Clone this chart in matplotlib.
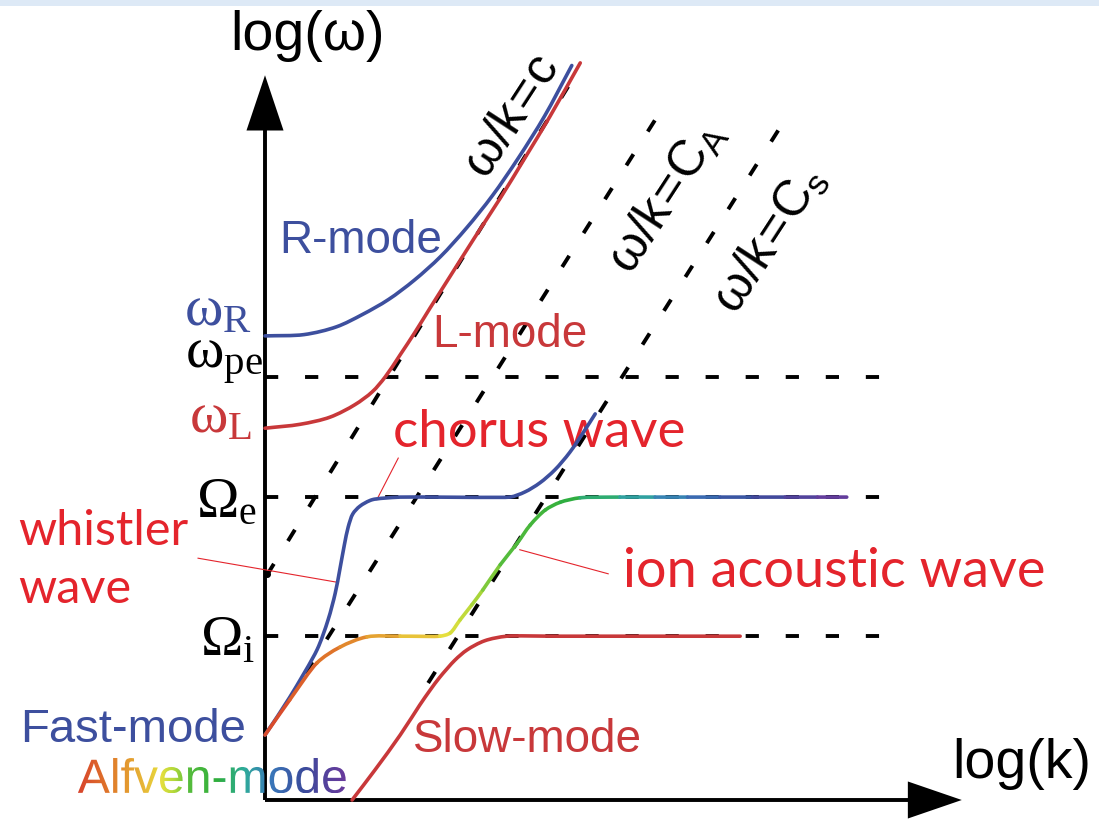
import numpy as np
import matplotlib
matplotlib.use('Agg')
import matplotlib.pyplot as plt
from matplotlib.colors import LinearSegmentedColormap
from matplotlib.textpath import TextPath
from matplotlib.patches import PathPatch
from matplotlib.path import Path
from matplotlib.font_manager import FontProperties

# characteristic frequencies on the log(omega) axis
w_levels = {'Omega_i': 2.52, 'Omega_e': 4.66, 'omega_L': 5.74, 'omega_pe': 6.51, 'omega_R': 7.14}

# R-mode (blue)
r_k = [0, 0.6, 1.1, 1.5, 1.9, 2.3, 2.7, 3.1, 3.5, 3.9, 4.3, 4.72]
r_w = [7.14, 7.16, 7.28, 7.47, 7.7, 8.0, 8.36, 8.8, 9.3, 9.88, 10.52, 11.3]

# L-mode (red)
l_k = [0, 0.54, 1.0, 1.38, 1.65, 1.85, 2.08, 2.31, 2.54, 2.85, 3.23, 3.62, 4.0, 4.38, 4.85]
l_w = [5.72, 5.78, 5.89, 6.08, 6.28, 6.51, 6.85, 7.2, 7.57, 8.06, 8.66, 9.26, 9.88, 10.51, 11.34]

# fast-mode / whistler / chorus (blue)
f_k = [0, 0.38, 0.8, 0.97, 1.08, 1.15, 1.22, 1.28, 1.35, 1.46, 1.65, 2.08, 3.77, 4.0, 4.23, 4.46, 4.69, 4.92, 5.08]
f_w = [1.0, 1.58, 2.31, 2.77, 3.18, 3.54, 3.92, 4.2, 4.4, 4.52, 4.62, 4.66, 4.66, 4.74, 4.88, 5.08, 5.35, 5.69, 5.94]

# Alfven-mode / ion acoustic (rainbow)
a_k = [0, 0.38, 0.8, 1.15, 1.57, 2.08, 2.69, 2.85, 3.0, 3.18, 3.35, 3.62, 3.88, 4.08, 4.31, 4.54,
       4.85, 5.46, 6.0, 6.5, 7.0, 7.5, 8.0, 8.5, 8.95]
a_w = [1.0, 1.54, 2.11, 2.35, 2.51, 2.52, 2.52, 2.57, 2.77, 3.0, 3.23, 3.62, 3.95, 4.23, 4.46, 4.58,
       4.65, 4.66, 4.66, 4.66, 4.66, 4.66, 4.66, 4.66, 4.66]

# slow-mode (red)
s_k = [1.34, 1.69, 2.08, 2.38, 2.54, 2.69, 2.92, 3.11, 3.38, 3.72, 4.5, 7.31]
s_w = [0, 0.46, 1.0, 1.46, 1.69, 1.89, 2.15, 2.31, 2.45, 2.52, 2.52, 2.52]

# phase velocity lines w/k = const (start, end)
c_line = ([0.03, 4.82], [3.46, 11.23])
ca_line = ([0.62, 6.0], [1.95, 10.46])
cs_line = ([2.51, 7.92], [1.8, 10.34])

# horizontal dashed levels and their right ends
h_levels = [w_levels['omega_pe'], w_levels['Omega_e'], w_levels['Omega_i']]
h_ends = [9.65, 9.8, 9.8]

BLUE = '#3d4f9e'
RED = '#c8383a'
BRIGHT_RED = '#e4242c'

rainbow = LinearSegmentedColormap.from_list('alf', [
    (0.0, '#d8432c'), (0.12, '#e07a2a'), (0.26, '#e8bf38'), (0.31, '#e6df3e'),
    (0.36, '#b0d83a'), (0.41, '#58bd3c'), (0.52, '#2fae3c'), (0.62, '#2eab9a'),
    (0.72, '#3a78ba'), (0.84, '#3a4c9c'), (1.0, '#6a3a9c')])


def smooth_path(xs, ys):
    # cubic bezier through the points, tangent = mean of neighbouring unit directions
    p = np.column_stack([xs, ys]).astype(float)
    n = len(p)
    d = np.diff(p, axis=0)
    seglen = np.hypot(d[:, 0], d[:, 1])
    u = d / seglen[:, None]
    tan = np.zeros_like(p)
    tan[0] = u[0]
    tan[-1] = u[-1]
    for i in range(1, n - 1):
        t = u[i - 1] + u[i]
        tan[i] = t / np.hypot(*t)
    verts = [p[0]]
    codes = [Path.MOVETO]
    for i in range(n - 1):
        h1 = min(seglen[i], seglen[i - 1] if i > 0 else seglen[i]) / 3
        h2 = min(seglen[i], seglen[i + 1] if i + 1 < n - 1 else seglen[i]) / 3
        verts += [p[i] + tan[i] * h1, p[i + 1] - tan[i + 1] * h2, p[i + 1]]
        codes += [Path.CURVE4] * 3
    return Path(verts, codes)


def curve(ax, xs, ys, color, lw=2.6, z=4):
    ax.add_patch(PathPatch(smooth_path(xs, ys), fill=False, ec=color, lw=lw,
                           capstyle='round', joinstyle='round', zorder=z))


fig = plt.figure(figsize=(10.99, 8.21), dpi=100)
ax = fig.add_axes([0, 0, 1, 1])
ax.set_xlim(-265 / 65, (1099 - 265) / 65)
ax.set_ylim(-21 / 65, 800 / 65)
ax.axis('off')

# light band at the very top
ax.axhspan(12.22, 12.5, color='#dde9f6', lw=0)

# axes with arrows
ax.arrow(0, 0, 0, 11.15, width=0.06, head_width=0.57, head_length=0.85,
         length_includes_head=True, fc='k', ec='k', lw=0, zorder=3)
ax.arrow(0, 0, 10.72, 0, width=0.06, head_width=0.57, head_length=0.83,
         length_includes_head=True, fc='k', ec='k', lw=0, zorder=3)

dash = (0, (3.4, 6.9))
for lev, end in zip(h_levels, h_ends):
    ax.plot([0, end], [lev, lev], color='k', lw=2.8, linestyle=dash, zorder=2)
for kk, ww in (c_line, ca_line, cs_line):
    ax.plot(kk, ww, color='k', lw=2.8, linestyle=dash, zorder=2)

# dispersion curves
curve(ax, r_k, r_w, BLUE)
curve(ax, l_k, l_w, RED)
curve(ax, f_k, f_w, BLUE)
curve(ax, s_k, s_w, RED)

# rainbow curve: one bezier piece per interval, coloured by position
full = smooth_path(a_k, a_w)
vs = full.vertices
for i in range(len(a_k) - 1):
    seg = Path(vs[3 * i:3 * i + 4], [Path.MOVETO] + [Path.CURVE4] * 3)
    col = rainbow((a_k[i] + a_k[i + 1]) / 2 / max(a_k))
    ax.add_patch(PathPatch(seg, fill=False, ec=col, lw=2.6, capstyle='round', zorder=5))

# pointer lines
ax.plot([-1.03, 1.11], [3.72, 3.35], color=BRIGHT_RED, lw=0.8, zorder=3)
ax.plot([1.72, 2.05], [4.62, 5.26], color=BRIGHT_RED, lw=0.8, zorder=3)
ax.plot([3.92, 5.28], [3.85, 3.48], color=BRIGHT_RED, lw=0.8, zorder=3)
ax.plot([0.03], [3.48], 'o', color='k', ms=4, zorder=3)

# axis titles
sans = 'Liberation Sans'
ax.text(0.66, 11.54, 'log(ω)', fontsize=40, family=sans, ha='center', va='baseline')
ax.text(11.65, 0.34, 'log(k)', fontsize=40, family=sans, ha='center', va='baseline')

# mode labels
ax.text(0.22, 8.42, 'R-mode', fontsize=33, family=sans, color=BLUE, va='baseline')
ax.text(2.57, 6.97, 'L-mode', fontsize=33, family=sans, color=RED, va='baseline')
ax.text(-3.77, 0.89, 'Fast-mode', fontsize=34, family=sans, color=BLUE, va='baseline')
ax.text(2.28, 0.74, 'Slow-mode', fontsize=33, family=sans, color=RED, va='baseline')

geo = 'Lato'
ax.text(1.97, 5.43, 'chorus wave', fontsize=38, family=geo, color=BRIGHT_RED, va='baseline')
ax.text(-3.8, 3.92, 'whistler', fontsize=35, family=geo, color=BRIGHT_RED, va='baseline')
ax.text(-3.8, 3.03, 'wave', fontsize=35, family=geo, color=BRIGHT_RED, va='baseline')
ax.text(5.51, 3.28, 'ion acoustic wave', fontsize=39, family=geo, color=BRIGHT_RED, va='baseline')

# rainbow "Alfven-mode"
tp = TextPath((-2.88, 0.11), 'Alfven-mode', size=0.74, prop=FontProperties(family=sans))
patch = PathPatch(tp, fc='none', ec='none')
ax.add_patch(patch)
ext = tp.get_extents()
grad = np.linspace(0, 1, 256).reshape(1, -1)
im = ax.imshow(grad, cmap=rainbow, extent=[ext.x0, ext.x1, ext.y0, ext.y1],
               aspect='auto', zorder=6, interpolation='bilinear')
im.set_clip_path(patch)

# frequency labels on the vertical axis
serif = 'Liberation Serif'
gx = -0.2
ax.text(gx, 7.31, r'$\mathregular{ω_R}$', fontsize=42, family=serif, color=BLUE, ha='right', va='baseline')
ax.text(-0.03, 6.65, r'$\mathregular{ω_{pe}}$', fontsize=42, family=serif, color='k', ha='right', va='baseline')
ax.text(gx, 5.66, r'$\mathregular{ω_L}$', fontsize=42, family=serif, color=RED, ha='right', va='baseline')
ax.text(-0.12, 4.35, r'$\mathregular{Ω_e}$', fontsize=41, family=serif, color='k', ha='right', va='baseline')
ax.text(-0.15, 2.23, r'$\mathregular{Ω_i}$', fontsize=41, family=serif, color='k', ha='right', va='baseline')

# phase velocity labels
ax.text(3.8, 10.51, r'$\mathregular{ω/k\!=\!c}$', fontsize=36, family=sans, rotation=57,
        ha='center', va='center', rotation_mode='anchor')
ax.text(6.18, 9.28, r'$\mathregular{ω/k\!=\!C_A}$', fontsize=36, family=sans, rotation=57,
        ha='center', va='center', rotation_mode='anchor')
ax.text(7.77, 8.62, r'$\mathregular{ω/k\!=\!C_s}$', fontsize=36, family=sans, rotation=57,
        ha='center', va='center', rotation_mode='anchor')

ax.set_xlim(-265 / 65, (1099 - 265) / 65)
ax.set_ylim(-21 / 65, 800 / 65)
fig.savefig('out.png', dpi=100, facecolor='white')
